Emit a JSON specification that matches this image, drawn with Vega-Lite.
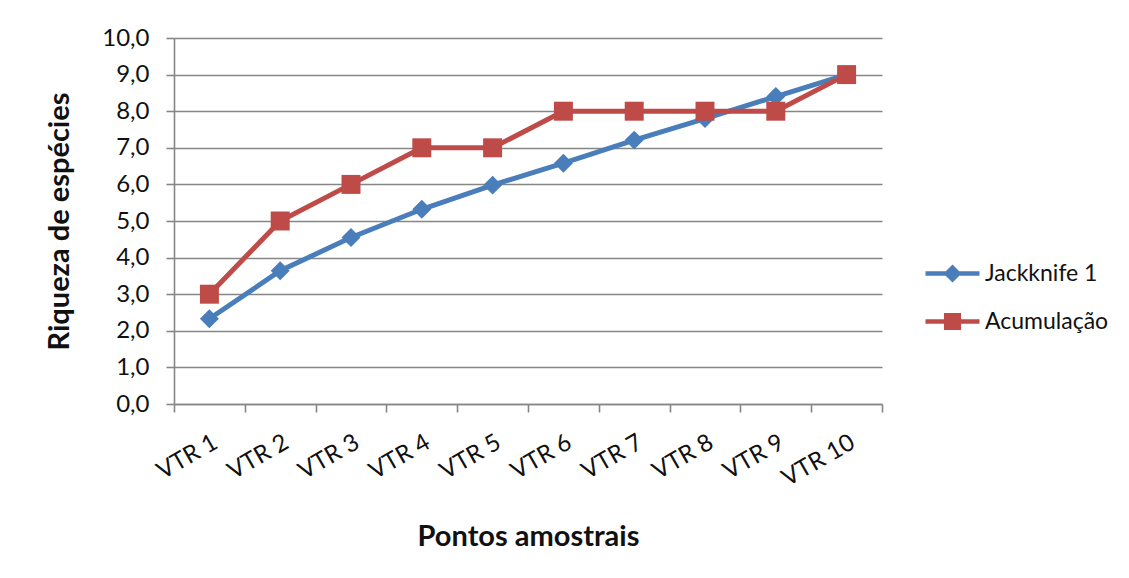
{
  "$schema": "https://vega.github.io/schema/vega-lite/v6.json",
  "width": 708,
  "height": 366,
  "autosize": {"type": "none"},
  "padding": {"left": 174, "top": 38, "right": 247, "bottom": 174},
  "background": "white",
  "config": {
    "font": "Lato",
    "locale": {"number": {"decimal": ",", "thousands": ".", "grouping": [3], "currency": ["", ""]}},
    "view": {"stroke": null},
    "axis": {"labelFont": "Lato", "labelFontSize": 24, "labelColor": "#111111", "labelOverlap": false, "titleFont": "Lato", "titleFontSize": 29, "titleFontWeight": "bold", "titleColor": "#111111", "domainColor": "#868686", "tickColor": "#868686", "gridColor": "#868686", "domainWidth": 1.6, "tickWidth": 1.6, "gridWidth": 1.6}
  },
  "data": {
    "values": [
      {"ponto": 1, "serie": "Jackknife 1", "valor": 2.33},
      {"ponto": 2, "serie": "Jackknife 1", "valor": 3.64},
      {"ponto": 3, "serie": "Jackknife 1", "valor": 4.55},
      {"ponto": 4, "serie": "Jackknife 1", "valor": 5.32},
      {"ponto": 5, "serie": "Jackknife 1", "valor": 5.98},
      {"ponto": 6, "serie": "Jackknife 1", "valor": 6.58},
      {"ponto": 7, "serie": "Jackknife 1", "valor": 7.21},
      {"ponto": 8, "serie": "Jackknife 1", "valor": 7.8},
      {"ponto": 9, "serie": "Jackknife 1", "valor": 8.4},
      {"ponto": 10, "serie": "Jackknife 1", "valor": 9.0},
      {"ponto": 1, "serie": "Acumulação", "valor": 3},
      {"ponto": 2, "serie": "Acumulação", "valor": 5},
      {"ponto": 3, "serie": "Acumulação", "valor": 6},
      {"ponto": 4, "serie": "Acumulação", "valor": 7},
      {"ponto": 5, "serie": "Acumulação", "valor": 7},
      {"ponto": 6, "serie": "Acumulação", "valor": 8},
      {"ponto": 7, "serie": "Acumulação", "valor": 8},
      {"ponto": 8, "serie": "Acumulação", "valor": 8},
      {"ponto": 9, "serie": "Acumulação", "valor": 8},
      {"ponto": 10, "serie": "Acumulação", "valor": 9}
    ]
  },
  "encoding": {
    "y": {
      "field": "valor", "type": "quantitative",
      "scale": {"domain": [0, 10], "nice": false},
      "axis": {"values": [0, 1, 2, 3, 4, 5, 6, 7, 8, 9, 10], "tickCount": 11, "format": ".1f", "tickSize": 8, "labelPadding": 17, "labelOverlap": false, "grid": true, "title": "Riqueza de espécies", "titleX": -106, "titleBaseline": "alphabetic"}
    }
  },
  "layer": [
    {
      "mark": {"type": "line", "strokeWidth": 5},
      "encoding": {
        "x": {
          "field": "ponto", "type": "quantitative",
          "scale": {"domain": [0.5, 10.5], "nice": false, "zero": false},
          "axis": {"orient": "bottom", "values": [1, 2, 3, 4, 5, 6, 7, 8, 9, 10], "labelExpr": "'VTR ' + datum.value", "ticks": false, "tickSize": 0, "domain": false, "grid": false, "labelAngle": -30, "labelAlign": "right", "labelBaseline": "top", "labelPadding": 26, "title": "Pontos amostrais", "titleY": 141, "titleBaseline": "alphabetic"}
        },
        "color": {"field": "serie", "type": "nominal", "scale": {"domain": ["Jackknife 1", "Acumulação"], "range": ["#4a7ebb", "#be4b48"]}, "legend": null}
      }
    },
    {
      "mark": {"type": "point", "filled": true, "opacity": 1, "size": 360},
      "encoding": {
        "x": {
          "field": "ponto", "type": "quantitative",
          "scale": {"domain": [0.5, 10.5], "nice": false, "zero": false},
          "axis": {"orient": "bottom", "values": [0.5, 1.5, 2.5, 3.5, 4.5, 5.5, 6.5, 7.5, 8.5, 9.5, 10.5], "labels": false, "tickSize": 8, "domain": true, "grid": false, "title": null}
        },
        "color": {"field": "serie", "type": "nominal", "scale": {"domain": ["Jackknife 1", "Acumulação"], "range": ["#4a7ebb", "#be4b48"]}, "legend": null},
        "shape": {"field": "serie", "type": "nominal", "scale": {"domain": ["Jackknife 1", "Acumulação"], "range": ["diamond", "square"]}, "legend": null}
      }
    },
    {
      "mark": {"type": "point", "filled": true, "opacity": 0, "size": 324},
      "encoding": {
        "x": {"field": "ponto", "type": "quantitative", "scale": {"domain": [0.5, 10.5], "nice": false, "zero": false}, "axis": null},
        "color": {"field": "serie", "type": "nominal", "scale": {"domain": ["Jackknife 1", "Acumulação"], "range": ["#4a7ebb", "#be4b48"]},
          "legend": {"title": null, "orient": "none", "legendX": 767, "legendY": 224, "symbolOpacity": 1, "symbolSize": 324, "labelFont": "Lato", "labelFontSize": 23, "labelColor": "#111111", "labelOffset": 21, "rowPadding": 24, "symbolStrokeWidth": 0}},
        "shape": {"field": "serie", "type": "nominal", "scale": {"domain": ["Jackknife 1", "Acumulação"], "range": ["M-3,-0.25H3V0.25H-3Z M-1,0L0,-1L1,0L0,1Z", "M-3,-0.25H3V0.25H-3Z M-0.95,-0.95H0.95V0.95H-0.95Z"]},
          "legend": {"title": null, "orient": "none", "legendX": 767, "legendY": 224, "symbolOpacity": 1, "symbolSize": 324, "labelFont": "Lato", "labelFontSize": 23, "labelColor": "#111111", "labelOffset": 21, "rowPadding": 24, "symbolStrokeWidth": 0}}
      }
    }
  ],
  "resolve": {"axis": {"x": "independent"}, "scale": {"shape": "independent", "color": "independent"}}
}
